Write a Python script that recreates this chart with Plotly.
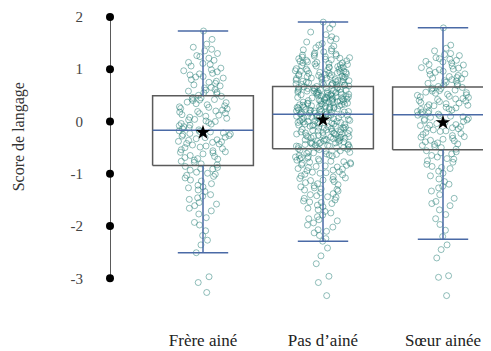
import plotly.graph_objects as go

categories = ["Frère ainé", "Pas d\u2019aîné", "Sœur ainée"]
cat_labels = ["Frère ainé", "Pas d\u2019ainé", "Sœur ainée"]

q1 = [-0.84, -0.52, -0.54]
median = [-0.17, 0.14, 0.13]
q3 = [0.49, 0.67, 0.66]
lower = [-2.51, -2.29, -2.25]
upper = [1.73, 1.90, 1.79]
mean = [-0.21, 0.03, -0.02]

y_ticks = [2, 1, 0, -1, -2, -3]

frere = [-3.27,-3.08,-2.97,-2.51,-2.36,-2.18,-2.09,-1.98,-1.93,-1.84,-1.77,-1.71,-1.66,-1.58,-1.55,-1.49,-1.43,-1.4,-1.34,-1.31,
         -1.27,-1.22,-1.19,-1.14,-1.12,-1.08,-1.05,-1.03,-0.99,-0.97,-0.93,-0.91,-0.9,-0.88,-0.86,-1.61,-1.25,-1.01,-2.27,-1.46,
         -0.83,-0.81,-0.78,-0.74,-0.72,-0.71,-0.67,-0.65,-0.62,-0.59,-0.58,-0.56,-0.52,-0.5,-0.49,-0.47,-0.43,-0.42,-0.4,-0.38,
         -0.36,-0.33,-0.31,-0.3,-0.28,-0.25,-0.24,-0.22,-0.2,-0.18,-0.69,-0.54,-0.45,-0.35,-0.27,-0.76,-0.6,-0.39,-0.23,-0.19,
         -0.16,-0.14,-0.12,-0.08,-0.07,-0.04,-0.02,0.0,0.03,0.04,0.06,0.1,0.12,0.13,0.16,0.18,0.2,0.24,0.25,0.28,
         0.3,0.32,0.36,0.37,0.4,0.42,0.45,0.46,0.48,-0.1,0.08,0.15,0.22,0.27,0.34,0.41,-0.05,0.01,0.19,0.43,
         0.5,0.53,0.56,0.58,0.61,0.64,0.68,0.7,0.73,0.77,0.8,0.83,0.86,0.89,0.92,0.95,0.99,1.02,1.06,1.09,
         1.13,1.17,1.21,1.26,1.3,1.35,1.42,1.48,1.57,1.73,0.55,0.65,0.75,0.85,0.97,1.11,1.24,1.38,0.6,0.91]

pas = [-3.33,-3.08,-2.96,-2.72,-2.57,-2.42,-2.29,-2.24,-2.18,-2.13,-2.07,-2.02,-1.98,-1.94,-1.9,-1.86,-1.82,-1.79,-1.75,-1.72,
       -1.69,-1.66,-1.63,-1.6,-1.57,-1.55,-1.52,-1.5,-1.47,-1.45,-1.42,-1.4,-1.38,-1.36,-1.33,-1.31,-1.29,-1.27,-1.25,-1.23,
       -1.21,-1.19,-1.17,-1.15,-1.13,-1.11,-1.09,-1.08,-1.06,-1.04,-1.02,-1.01,-0.99,-0.97,-0.96,-0.94,-0.93,-0.91,-0.9,-0.88,
       -0.87,-0.85,-0.84,-0.83,-0.81,-0.8,-0.79,-0.77,-0.76,-0.75,-0.74,-0.72,-0.71,-0.7,-0.69,-0.68,-0.66,-0.65,-0.64,-0.63,
       -0.62,-0.61,-0.6,-0.59,-0.58,-0.57,-0.56,-0.55,-0.54,-0.53,-1.88,-1.54,-1.3,-1.12,-0.98,-0.86,-0.78,-0.67,-1.44,-2.1,
       -0.52,-0.51,-0.5,-0.49,-0.48,-0.47,-0.47,-0.46,-0.45,-0.44,-0.43,-0.42,-0.41,-0.41,-0.4,-0.39,-0.38,-0.37,-0.36,-0.35,
       -0.35,-0.34,-0.33,-0.32,-0.31,-0.3,-0.29,-0.29,-0.28,-0.27,-0.26,-0.25,-0.24,-0.23,-0.23,-0.22,-0.21,-0.2,-0.19,-0.18,
       -0.17,-0.17,-0.16,-0.15,-0.14,-0.13,-0.12,-0.11,-0.11,-0.1,-0.09,-0.08,-0.07,-0.06,-0.05,-0.05,-0.04,-0.03,-0.02,-0.01,
       0.0,0.01,0.01,0.02,0.03,0.04,0.05,0.06,0.07,0.07,0.08,0.09,0.1,0.11,0.12,0.13,0.13,-0.46,-0.38,-0.31,
       -0.24,-0.16,-0.09,-0.02,0.04,0.1,-0.44,-0.27,-0.13,0.0,-0.5,-0.34,-0.2,-0.06,0.08,-0.4,-0.22,-0.03,0.12,-0.3,
       0.14,0.15,0.15,0.16,0.17,0.18,0.18,0.19,0.2,0.21,0.21,0.22,0.23,0.24,0.24,0.25,0.26,0.27,0.27,0.28,
       0.29,0.3,0.3,0.31,0.32,0.33,0.33,0.34,0.35,0.36,0.36,0.37,0.38,0.39,0.39,0.4,0.41,0.42,0.42,0.43,
       0.44,0.45,0.45,0.46,0.47,0.48,0.48,0.49,0.5,0.51,0.51,0.52,0.53,0.54,0.54,0.55,0.56,0.57,0.57,0.58,
       0.59,0.6,0.6,0.61,0.62,0.63,0.63,0.64,0.65,0.66,0.17,0.23,0.29,0.35,0.41,0.47,0.53,0.59,0.65,0.2,
       0.26,0.32,0.38,0.44,0.5,0.56,0.62,0.16,0.28,0.4,0.52,0.64,0.22,0.34,0.46,0.58,0.19,0.37,0.55,0.43,
       0.67,0.68,0.69,0.7,0.71,0.72,0.73,0.74,0.75,0.76,0.77,0.78,0.79,0.8,0.81,0.82,0.83,0.84,0.85,0.86,
       0.87,0.88,0.89,0.9,0.91,0.92,0.93,0.94,0.95,0.96,0.97,0.98,1.0,1.01,1.02,1.04,1.05,1.06,1.08,1.09,
       1.1,1.12,1.13,1.15,1.16,1.18,1.19,1.21,1.22,1.24,1.26,1.27,1.29,1.31,1.33,1.35,1.37,1.39,1.41,1.44,
       1.46,1.49,1.52,1.55,1.58,1.62,1.66,1.71,1.78,1.86,0.72,0.8,0.88,0.96,1.04,1.12,1.2,1.28,0.7,0.78,
       0.86,0.94,1.03,1.11,1.23,0.74,0.83,0.92,1.0,1.14,0.69,0.76,0.85,0.97,1.07,1.17,0.71,0.9,1.25,1.9]

soeur = [-3.33,-2.98,-2.95,-2.61,-2.45,-2.36,-2.2,-2.08,-1.97,-1.86,-1.78,-1.69,-1.61,-1.53,-1.47,-1.4,-1.33,-1.27,-1.2,-1.15,
         -1.1,-1.04,-0.99,-0.95,-0.9,-0.86,-0.82,-0.78,-0.75,-0.71,-0.68,-0.65,-0.62,-0.6,-0.58,-0.56,-1.24,-0.88,-1.57,-0.72,
         -0.53,-0.5,-0.48,-0.46,-0.43,-0.41,-0.39,-0.36,-0.34,-0.32,-0.29,-0.27,-0.25,-0.23,-0.21,-0.18,-0.16,-0.14,-0.12,-0.1,
         -0.08,-0.06,-0.04,-0.02,0.0,0.02,0.04,0.06,0.08,0.1,0.11,0.12,-0.44,-0.3,-0.19,-0.07,0.03,-0.37,-0.13,0.09,
         0.14,0.16,0.18,0.2,0.22,0.24,0.26,0.28,0.3,0.32,0.34,0.36,0.38,0.4,0.42,0.44,0.46,0.48,0.5,0.52,
         0.54,0.56,0.58,0.6,0.62,0.64,0.65,0.19,0.27,0.35,0.43,0.51,0.59,0.23,0.31,0.47,0.55,0.63,0.15,0.39,
         0.67,0.7,0.73,0.75,0.78,0.8,0.83,0.86,0.88,0.91,0.94,0.97,1.0,1.03,1.06,1.09,1.12,1.15,1.19,1.22,
         1.26,1.3,1.35,1.4,1.46,1.79,0.72,0.77,0.84,0.9,0.96,1.02,1.08,1.14,1.2,1.28,0.69,0.82,0.99,1.17]

points = [frere, pas, soeur]

FONT = "Liberation Serif"
BOX_GRAY = "#5a5a5a"
BLUE = "#4a6aa6"
PT = "rgba(35,125,118,0.5)"
HW = 0.42   # box half width (x units)
CW = 0.21   # cap half width
X_RANGE = [-0.775, 2.4]

fig = go.Figure()

for i in range(len(categories)):
    fig.add_trace(go.Scatter(
        x=[i - HW, i + HW, i + HW, i - HW, i - HW],
        y=[q1[i], q1[i], q3[i], q3[i], q1[i]],
        mode="lines", line=dict(color=BOX_GRAY, width=1.5),
        hoverinfo="skip", showlegend=False))
    fig.add_trace(go.Scatter(
        x=[i - HW, i + HW], y=[median[i], median[i]],
        mode="lines", line=dict(color=BLUE, width=1.5),
        hoverinfo="skip", showlegend=False))
    fig.add_trace(go.Scatter(
        x=[i, i, None, i, i], y=[q3[i], upper[i], None, q1[i], lower[i]],
        mode="lines", line=dict(color=BLUE, width=1.5),
        hoverinfo="skip", showlegend=False))
    fig.add_trace(go.Scatter(
        x=[i - CW, i + CW, None, i - CW, i + CW],
        y=[upper[i], upper[i], None, lower[i], lower[i]],
        mode="lines", line=dict(color=BLUE, width=1.5),
        hoverinfo="skip", showlegend=False))

for i, vals in enumerate(points):
    fig.add_trace(go.Box(
        y=vals, x0=i, width=2 * HW,
        boxpoints="all", jitter=0.55, pointpos=0,
        line=dict(color="rgba(0,0,0,0)", width=0),
        fillcolor="rgba(0,0,0,0)",
        marker=dict(symbol="circle-open", size=6, color=PT,
                    line=dict(color=PT, width=1)),
        hoverinfo="skip", showlegend=False))

fig.add_trace(go.Scatter(
    x=list(range(len(categories))), y=mean, mode="markers",
    marker=dict(symbol="star", size=11, color="black"),
    hoverinfo="skip", showlegend=False))

fig.add_trace(go.Scatter(
    x=[X_RANGE[0]] * len(y_ticks), y=y_ticks, mode="lines+markers",
    line=dict(color="black", width=1.3),
    marker=dict(size=8, color="black"),
    cliponaxis=False, hoverinfo="skip", showlegend=False))

fig.update_layout(
    width=483, height=343,
    margin=dict(l=102, r=0, t=0, b=35, autoexpand=False),
    paper_bgcolor="white", plot_bgcolor="white",
    font=dict(family=FONT, color="#333333"),
    showlegend=False,
    xaxis=dict(range=X_RANGE, tickvals=list(range(len(categories))),
               ticktext=cat_labels, showgrid=False, zeroline=False,
               showline=False, ticks="", tickfont=dict(size=17, color="#222222"),
               ticklabelstandoff=12, automargin=False),
    yaxis=dict(range=[-3.72, 2.17], tickvals=y_ticks,
               ticktext=[str(v) for v in y_ticks],
               showgrid=False, zeroline=False, showline=False, ticks="",
               tickfont=dict(size=15, color="#444444"), ticklabelstandoff=26,
               automargin=False),
    annotations=[dict(text="Score de langage", textangle=-90,
                      xref="paper", yref="paper", x=0, xshift=-91,
                      y=0.58, xanchor="center", yanchor="middle",
                      showarrow=False, font=dict(size=16, color="#333333"))],
)

fig.write_html("out.html")
